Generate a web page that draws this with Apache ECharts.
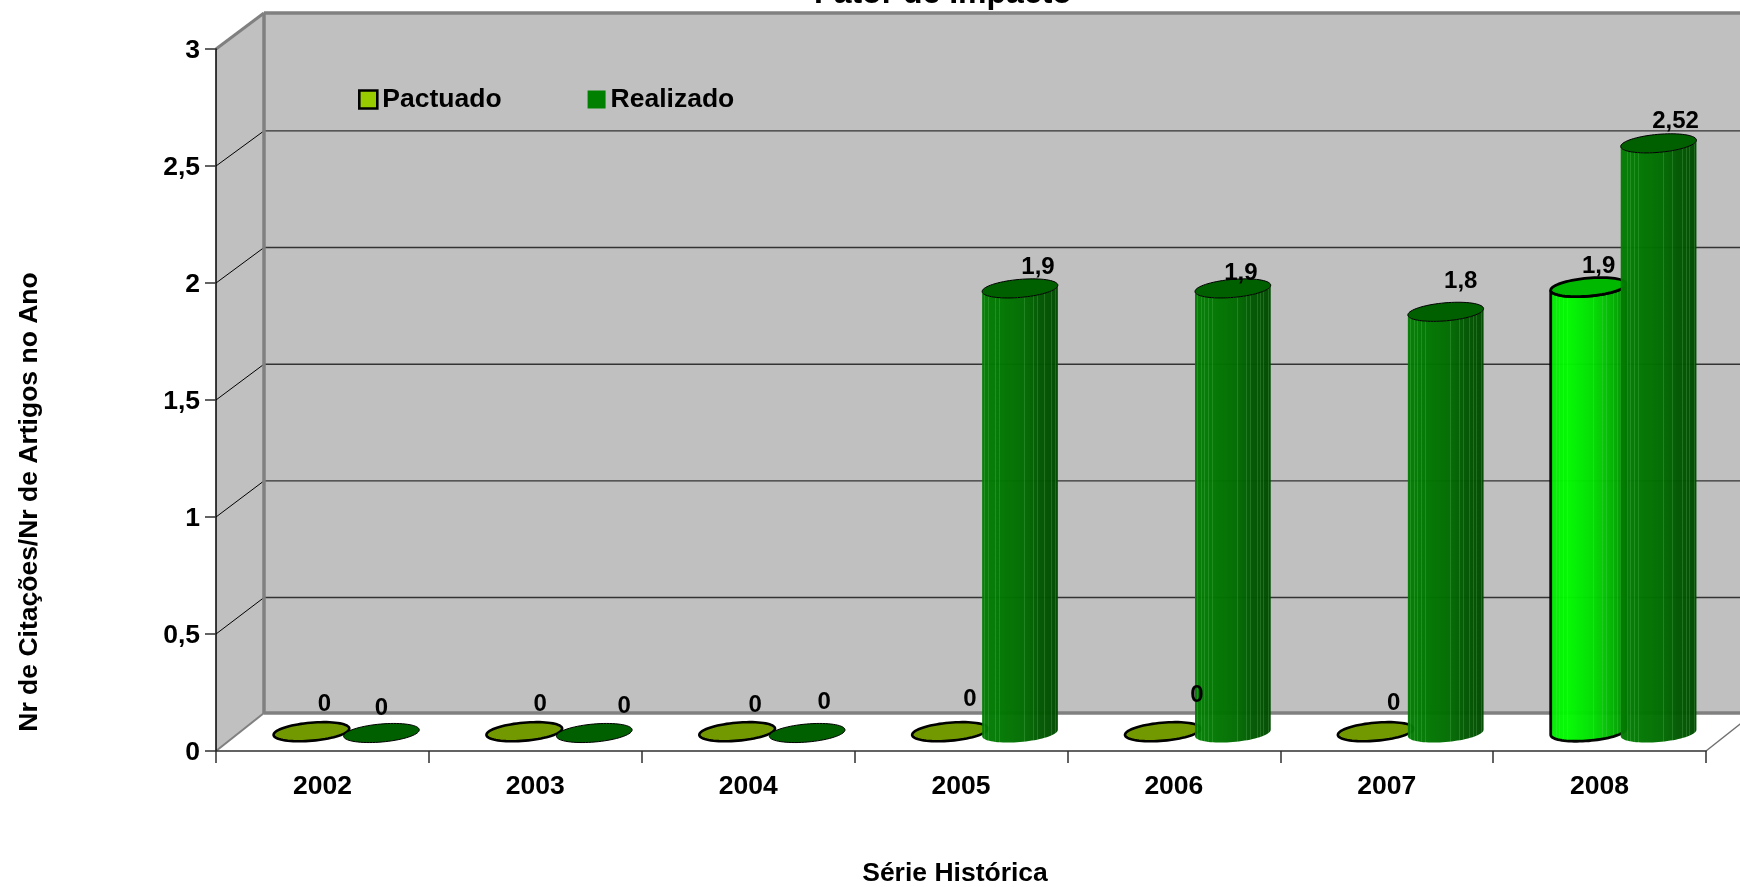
<!DOCTYPE html>
<html lang="pt">
<head>
<meta charset="utf-8">
<title>Fator de Impacto</title>
<style>
  html, body { margin: 0; padding: 0; background: #fff; overflow: hidden; }
  #grafico { width: 1740px; height: 887px; }
</style>
<script src="https://cdn.jsdelivr.net/npm/echarts@6/dist/echarts.min.js"></script>
</head>
<body>
<div id="grafico"></div>
<script>
// Série histórica do fator de impacto
const anos = ['2002', '2003', '2004', '2005', '2006', '2007', '2008'];
const pactuado = [0, 0, 0, 0, 0, 0, 1.9];
const realizado = [0, 0, 0, 1.9, 1.9, 1.8, 2.52];
const escalaY = [0, 0.5, 1, 1.5, 2, 2.5, 3];

// Deslocamento manual de cada rótulo de valor, em pixels, a partir do topo do cilindro
const ajusteRotuloPactuado = [[13, -27], [16, -27], [18, -26], [20, -32], [34, -36], [18, -28], [10, -21]];
const ajusteRotuloRealizado = [[0, -25], [30, -27], [17, -31], [18, -21], [8, -15], [15, -30], [17, -22]];

const FONTE = '"Liberation Sans", Arial, sans-serif';
const PROF_X = 48, PROF_Y = 38;           // profundidade do piso em perspectiva
const AFASTAMENTO = 35;                   // distância do centro de cada cilindro ao meio do grupo
const RAIO_A = 38, RAIO_B = 9, INCLINACAO = 5 * Math.PI / 180;

// Altura da base de cada série sobre o eixo: a primeira fica um pouco mais ao fundo
function alturaBase(lado) {
  return lado < 0 ? 19.3 : 18;
}

// Pontos de um arco da elipse inclinada, de t0 a t1
function arco(cx, cy, t0, t1, passos) {
  const pts = [];
  for (let i = 0; i <= passos; i++) {
    const t = t0 + (t1 - t0) * i / passos;
    pts.push([
      cx + RAIO_A * Math.cos(t) * Math.cos(INCLINACAO) + RAIO_B * Math.sin(t) * Math.sin(INCLINACAO),
      cy - RAIO_A * Math.cos(t) * Math.sin(INCLINACAO) + RAIO_B * Math.sin(t) * Math.cos(INCLINACAO)
    ]);
  }
  return pts;
}

// Faixas verticais claras na lateral facetada do cilindro
const FAIXAS = [0.03, 0.09, 0.13, 0.18, 0.23, 0.56, 0.68, 0.73, 0.82, 0.87, 0.91, 0.97];

function paraRgb(c) {
  return 'rgb(' + c.map(Math.round).join(',') + ')';
}

function tomNaLateral(tons, x) {
  for (let i = 1; i < tons.length; i++) {
    if (x <= tons[i][0]) {
      const a = tons[i - 1], b = tons[i];
      return [0, 1, 2].map(k => a[1][k] + (b[1][k] - a[1][k]) * (x - a[0]) / (b[0] - a[0]));
    }
  }
  return tons[tons.length - 1][1];
}

function gradienteLateral(tons) {
  const stops = [];
  let pos = 0;
  FAIXAS.forEach(f => {
    const e = 0.006;
    stops.push({ offset: pos, color: paraRgb(tomNaLateral(tons, pos)) });
    stops.push({ offset: f - e, color: paraRgb(tomNaLateral(tons, f - e)) });
    const base = tomNaLateral(tons, f);
    const claro = paraRgb(base.map((v, k) => v + ([140, 220, 140][k] - v) * 0.2));
    stops.push({ offset: f - e, color: claro });
    stops.push({ offset: f + e, color: claro });
    pos = f + e;
  });
  stops.push({ offset: pos, color: paraRgb(tomNaLateral(tons, pos)) });
  stops.push({ offset: 1, color: paraRgb(tomNaLateral(tons, 1)) });
  return { type: 'linear', x: 0, y: 0, x2: 1, y2: 0, colorStops: stops };
}

const TONS_REALIZADO = [[0, [4, 124, 4]], [0.25, [0, 120, 0]], [0.55, [0, 108, 0]], [0.75, [0, 88, 0]], [1, [0, 74, 0]]];
const TONS_DESTAQUE = [[0, [0, 235, 0]], [0.3, [0, 255, 0]], [0.6, [0, 215, 0]], [0.85, [0, 170, 0]], [1, [0, 130, 0]]];

function estiloPonto(nomeSerie, ano) {
  if (nomeSerie === 'Realizado') {
    return { lateral: gradienteLateral(TONS_REALIZADO), topo: '#006000', traco: '#000', espessura: 1, ordem: 2 };
  }
  if (ano === '2008') {
    return { lateral: gradienteLateral(TONS_DESTAQUE), topo: '#00B800', traco: '#000', espessura: 2.8, ordem: 1 };
  }
  return { lateral: '#99CC00', topo: '#739900', traco: '#000', espessura: 2.6, ordem: 1 };
}

// Um cilindro por ano, com o rótulo de valor acima do topo
function desenharCilindro(nomeSerie, lado, ajustes) {
  return function (params, api) {
    const i = api.value(0), v = api.value(1);
    const base = api.coord([i, 0]);
    const topoEixo = api.coord([i, v]);
    const cx = base[0] + PROF_X / 2 + lado * AFASTAMENTO;
    const yBase = base[1] - alturaBase(lado);
    const yTopo = topoEixo[1] - alturaBase(lado);
    const e = estiloPonto(nomeSerie, anos[i]);
    const filhos = [];
    const t0 = Math.atan2(RAIO_B * Math.sin(INCLINACAO), RAIO_A * Math.cos(INCLINACAO));
    if (v > 0) {
      const corpo = arco(cx, yBase, t0, Math.PI + t0, 40).concat(arco(cx, yTopo, Math.PI + t0, t0, 40));
      filhos.push({
        type: 'polygon',
        z2: e.ordem,
        shape: { points: corpo },
        style: {
          fill: e.lateral,
          opacity: 0.97,
          stroke: nomeSerie === 'Pactuado' ? e.traco : null,
          lineWidth: nomeSerie === 'Pactuado' ? e.espessura : 0
        }
      });
    }
    filhos.push({
      type: 'polygon',
      z2: e.ordem,
      shape: { points: arco(cx, yTopo, 0, Math.PI * 2, 72) },
      style: { fill: e.topo, stroke: e.traco, lineWidth: e.espessura }
    });
    const aj = ajustes[i];
    filhos.push({
      type: 'text',
      z2: 10,
      style: {
        x: cx + aj[0],
        y: yTopo + aj[1],
        text: String(v).replace('.', ','),
        fill: '#000',
        font: 'bold 24px ' + FONTE,
        align: 'center',
        verticalAlign: 'middle'
      }
    });
    return { type: 'group', children: filhos };
  };
}

// Paredes, piso e linhas de grade do cenário em perspectiva
function desenharCenario(params, api) {
  const g = params.coordSys;
  const frenteE = g.x, frenteD = g.x + g.width, chao = g.y + g.height;
  const fundoE = frenteE + PROF_X, fundoD = frenteD + PROF_X, chaoFundo = chao - PROF_Y;
  const fator = 700 / g.height;
  const yFundo = v => chaoFundo - (chao - api.coord([0, v])[1]) * fator;
  const topoF = yFundo(3);
  const filhos = [
    { type: 'polygon', shape: { points: [[fundoE, topoF], [fundoD, topoF], [fundoD, chaoFundo], [fundoE, chaoFundo]] },
      style: { fill: '#C0C0C0' } },
    { type: 'polygon', shape: { points: [[frenteE, g.y], [fundoE, topoF], [fundoE, chaoFundo], [frenteE, chao]] },
      style: { fill: '#C0C0C0' } }
  ];
  escalaY.slice(1, -1).forEach(v => {
    const yb = yFundo(v) + 1.2, yf = api.coord([0, v])[1];
    filhos.push({ type: 'line', shape: { x1: frenteE, y1: yf, x2: fundoE, y2: yb }, style: { stroke: '#000', lineWidth: 1 } });
    filhos.push({ type: 'line', shape: { x1: fundoE, y1: yb, x2: fundoD, y2: yb }, style: { stroke: '#333333', lineWidth: 1.4 } });
  });
  const moldura = { stroke: '#808080', lineWidth: 3.5 };
  filhos.push(
    { type: 'line', shape: { x1: fundoE, y1: topoF, x2: fundoD, y2: topoF }, style: moldura },
    { type: 'line', shape: { x1: fundoE, y1: chaoFundo, x2: fundoD, y2: chaoFundo }, style: moldura },
    { type: 'line', shape: { x1: fundoE, y1: topoF, x2: fundoE, y2: chaoFundo }, style: moldura },
    { type: 'line', shape: { x1: frenteE, y1: g.y, x2: fundoE, y2: topoF }, style: { stroke: '#808080', lineWidth: 3 } },
    { type: 'line', shape: { x1: frenteE, y1: chao, x2: fundoE, y2: chaoFundo }, style: { stroke: '#808080', lineWidth: 2 } },
    { type: 'line', shape: { x1: frenteD, y1: chao, x2: fundoD, y2: chaoFundo }, style: { stroke: '#707070', lineWidth: 1.5 } }
  );
  return { type: 'group', children: filhos };
}

const pontos = lista => lista.map((v, i) => [i, v]);
const rotuloEixo = { color: '#000', fontFamily: FONTE, fontWeight: 'bold', fontSize: 26.5 };
const fonteTitulo = 'bold 26.5px ' + FONTE;

const grafico = echarts.init(document.getElementById('grafico'), null, { renderer: 'canvas' });
grafico.setOption({
  animation: false,
  backgroundColor: '#fff',
  title: {
    text: 'Fator de Impacto',
    left: 938,
    textAlign: 'center',
    top: -27,
    textStyle: { color: '#000', fontFamily: FONTE, fontWeight: 'bold', fontSize: 32 }
  },
  legend: {
    left: 353,
    top: 81,
    itemWidth: 18,
    itemHeight: 18,
    itemGap: 86,
    selectedMode: false,
    textStyle: { color: '#000', fontFamily: FONTE, fontWeight: 'bold', fontSize: 26.5 },
    data: [
      { name: 'Pactuado', icon: 'rect', itemStyle: { color: '#99CC00', borderColor: '#000', borderWidth: 2.6 } },
      { name: 'Realizado', icon: 'rect', itemStyle: { color: '#008000', borderWidth: 0 } }
    ]
  },
  grid: { left: 216, top: 49, right: 34, bottom: 136 },
  xAxis: {
    type: 'category',
    data: anos,
    z: 5,
    boundaryGap: true,
    axisLine: { lineStyle: { color: '#303030', width: 1.5 } },
    axisTick: { show: true, alignWithLabel: false, length: 12, lineStyle: { color: '#303030', width: 1.5 } },
    axisLabel: Object.assign({ margin: 22, interval: 0 }, rotuloEixo),
    splitLine: { show: false }
  },
  yAxis: {
    type: 'value',
    min: 0,
    max: 3,
    interval: 0.5,
    z: 5,
    axisLine: { show: true, lineStyle: { color: '#000', width: 1.5 } },
    axisTick: { show: true, length: 11, lineStyle: { color: '#303030', width: 1.5 } },
    axisLabel: Object.assign({ margin: 16, verticalAlign: 'top', lineHeight: 4, formatter: v => String(v).replace('.', ',') }, rotuloEixo),
    splitLine: { show: false }
  },
  graphic: [
    {
      type: 'text',
      x: 30,
      y: 502,
      rotation: Math.PI / 2,
      z: 10,
      style: { text: 'Nr de Citações/Nr de Artigos no Ano', fill: '#000', font: fonteTitulo, align: 'center', verticalAlign: 'middle' }
    },
    {
      type: 'text',
      x: 955,
      y: 874,
      z: 10,
      style: { text: 'Série Histórica', fill: '#000', font: fonteTitulo, align: 'center', verticalAlign: 'middle' }
    }
  ],
  series: [
    {
      type: 'custom', name: 'Cenário', silent: true, z: 1,
      coordinateSystem: 'cartesian2d',
      encode: { x: 0, y: 1 },
      data: [[0, 0]],
      renderItem: desenharCenario
    },
    {
      type: 'custom', name: 'Pactuado', z: 3,
      coordinateSystem: 'cartesian2d',
      itemStyle: { color: '#99CC00' },
      encode: { x: 0, y: 1 },
      data: pontos(pactuado),
      renderItem: desenharCilindro('Pactuado', -1, ajusteRotuloPactuado)
    },
    {
      type: 'custom', name: 'Realizado', z: 3,
      coordinateSystem: 'cartesian2d',
      itemStyle: { color: '#008000' },
      encode: { x: 0, y: 1 },
      data: pontos(realizado),
      renderItem: desenharCilindro('Realizado', 1, ajusteRotuloRealizado)
    }
  ]
});
</script>
</body>
</html>
